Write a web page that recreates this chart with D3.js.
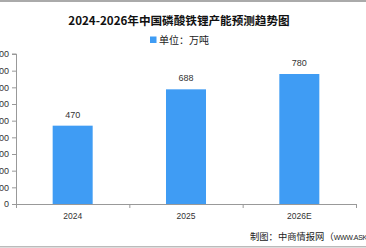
<!DOCTYPE html>
<html><head><meta charset="utf-8">
<script src="https://cdn.jsdelivr.net/npm/d3@7"></script>
<style>body{margin:0;background:#fff;}svg{display:block;}</style>
</head><body>
<svg id="c" width="366" height="248"></svg>
<script>
const categories = ["2024", "2025", "2026E"];
const values = [470, 688, 780];
const yTicks = [0, 100, 200, 300, 400, 500, 600, 700, 800, 900];
const title = "2024-2026年中国磷酸铁锂产能预测趋势图";
const legendLabel = "单位：万吨";
const sourceCn = "制图：中商情报网（";
const sourceEn = "WWW.ASKCI.COM）";

(function(){
const svg = d3.select("#c");
const W = 366, H = 248;
const pL = 16, pR = 356, pT = 54, pB = 204;
const font = "'Noto Sans CJK SC', 'Noto Sans', sans-serif";
const numFont = "'Liberation Sans', Arial, sans-serif";

svg.append("rect").attr("x",0).attr("y",0).attr("width",W).attr("height",2).attr("fill","#aaa");
svg.append("rect").attr("x",0).attr("y",246).attr("width",W).attr("height",1.5).attr("fill","#bbb");

const x = d3.scaleBand().domain(categories).range([pL, pR]).paddingInner(0.647).paddingOuter(0.3235);
const y = d3.scaleLinear().domain([0, 900]).range([pB, pT]);

svg.append("text").attr("x",179).attr("y",25).attr("text-anchor","middle")
  .attr("font-family",font).attr("font-weight","bold").attr("font-size",11.6).attr("fill","#111").text(title);

svg.append("rect").attr("x",150).attr("y",36.5).attr("width",6.5).attr("height",6.5).attr("fill","#3f9cf4");
svg.append("text").attr("x",159).attr("y",44).attr("font-family",font).attr("font-size",10).attr("fill","#222").text(legendLabel);

// y axis
const ya = svg.append("g").attr("transform",`translate(${pL},0)`)
  .call(d3.axisLeft(y).tickValues(yTicks).tickSize(4).tickPadding(3).tickFormat(d3.format("d")));
ya.select(".domain").attr("stroke","#999").attr("d",`M-4,${pT}H0.5V${pB}`);
ya.selectAll(".tick line").attr("stroke","#999");
ya.selectAll(".tick text").attr("font-family",numFont).attr("font-size",9).attr("fill","#333");

// bars
svg.selectAll("rect.bar").data(values).enter().append("rect").attr("class","bar")
  .attr("x",(d,i)=>x(categories[i])).attr("width",x.bandwidth())
  .attr("y",d=>y(d)).attr("height",d=>pB-y(d)).attr("fill","#3f9cf4");

svg.selectAll("text.val").data(values).enter().append("text").attr("class","val")
  .attr("x",(d,i)=>x(categories[i])+x.bandwidth()/2).attr("y",d=>y(d)-8)
  .attr("text-anchor","middle").attr("font-family",numFont)
  .attr("font-size",9).attr("fill","#333").text(d=>d);

// x axis
const step = x.step();
const xa = svg.append("g");
xa.append("line").attr("x1",pL).attr("x2",pR).attr("y1",pB+0.5).attr("y2",pB+0.5).attr("stroke","#999");
const bounds = d3.range(categories.length+1).map(i=>pL+i*step);
xa.selectAll("line.t").data(bounds).enter().append("line").attr("class","t")
  .attr("x1",d=>d+0.5).attr("x2",d=>d+0.5).attr("y1",pB).attr("y2",pB+4).attr("stroke","#999");
xa.selectAll("text").data(categories).enter().append("text")
  .attr("x",d=>x(d)+x.bandwidth()/2).attr("y",pB+15).attr("text-anchor","middle")
  .attr("font-family",numFont).attr("font-size",8.5).attr("fill","#333").text(d=>d);

const src = svg.append("text").attr("x",250).attr("y",240).attr("fill","#222");
src.append("tspan").attr("font-family",font).attr("font-size",9.3).text(sourceCn);
src.append("tspan").attr("font-family","'Liberation Sans Narrow', 'Liberation Sans', sans-serif").attr("font-size",7).attr("letter-spacing",-0.3).text(sourceEn);
})();
</script>
</body></html>
